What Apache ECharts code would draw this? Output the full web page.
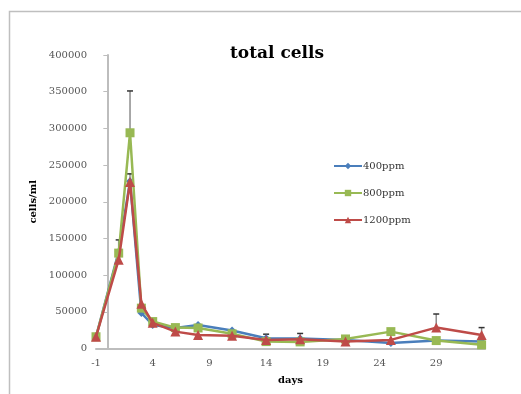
<!DOCTYPE html>
<html><head><meta charset="utf-8">
<script src="https://cdn.jsdelivr.net/npm/echarts@6/dist/echarts.min.js"></script>
<style>html,body{margin:0;padding:0;background:#fff}#c{width:521px;height:394px}</style>
</head><body><div id="c"></div>
<script>
const days = [-1, 1, 2, 3, 4, 6, 8, 11, 14, 17, 21, 25, 29, 33];
const s400  = [16000, 132000, 228000, 48500, 32000, 28000, 32000, 24500, 14000, 13500, 11700, 7500, 10800, 9400];
const s800  = [16000, 130000, 294000, 55000, 36700, 28500, 28000, 20000, 9400, 9000, 13000, 23000, 10800, 5000];
const s1200 = [16000, 121000, 227000, 61000, 35000, 23000, 18500, 17500, 11700, 12700, 9400, 11700, 28500, 18500];
const seriesNames = ['400ppm', '800ppm', '1200ppm'];
// error bars: day, point value, upper value
const errDay  = [1, 2, 2, 14, 17, 29, 33];
const errLow  = [131000, 294000, 227000, 14000, 13500, 28500, 18500];
const errHigh = [148000, 351000, 238000, 19500, 20500, 47000, 28500];
const yTicks = [0, 50000, 100000, 150000, 200000, 250000, 300000, 350000, 400000];

const colors = ['#4a7ebb', '#98b954', '#be4b48'];
const symbols = ['diamond', 'rect', 'triangle'];
const sizes = [8, 9, 10];
const allS = [s400, s800, s1200];
const serif = 'DejaVu Serif';

const lineSeries = allS.map((arr, i) => ({
  name: seriesNames[i], type: 'line',
  data: days.map((d, j) => [d, arr[j]]),
  symbol: symbols[i], symbolSize: sizes[i],
  itemStyle: {color: colors[i]},
  lineStyle: {color: colors[i], width: 2.5},
  z: 3 + i
}));

const errSeries = {
  type: 'custom', silent: true, z: 2,
  data: errDay.map((d, i) => [d, errLow[i], errHigh[i]]),
  renderItem: function (params, api) {
    const p0 = api.coord([api.value(0), api.value(1)]);
    const p1 = api.coord([api.value(0), api.value(2)]);
    return {type: 'group', children: [
      {type: 'line', shape: {x1: p0[0], y1: p0[1], x2: p1[0], y2: p1[1]}, style: {stroke: '#8c8c8c', lineWidth: 1.5}},
      {type: 'line', shape: {x1: p1[0] - 3, y1: p1[1], x2: p1[0] + 3, y2: p1[1]}, style: {stroke: '#333', lineWidth: 1.5}}
    ]};
  }
};

const chart = echarts.init(document.getElementById('c'));
chart.setOption({
  animation: false,
  graphic: [{type: 'rect', shape: {x: 9.5, y: 11.5, width: 600, height: 500}, style: {fill: 'none', stroke: '#bfbfbf', lineWidth: 1.5}, z: -1}],
  title: {text: 'total cells', left: 272, top: 40, textAlign: 'center',
    textStyle: {fontFamily: serif, fontWeight: 'bold', fontSize: 17, color: '#000'}},
  legend: {orient: 'vertical', left: 328, top: 156, itemGap: 17, itemWidth: 28, itemHeight: 8,
    data: seriesNames,
    textStyle: {fontFamily: serif, fontSize: 10, color: '#333', padding: [0, 0, 0, -4]}},
  grid: {left: 96, right: 36, top: 55, bottom: 45.5},
  xAxis: {type: 'value', min: -1, max: 33.3, interval: 1,
    name: 'days', nameLocation: 'middle', nameGap: 27,
    nameTextStyle: {fontFamily: serif, fontWeight: 'bold', fontSize: 10, color: '#000'},
    axisLine: {lineStyle: {color: '#bdbdbd', width: 2}},
    axisTick: {show: false}, splitLine: {show: false},
    axisLabel: {fontFamily: serif, fontSize: 10, color: '#555', margin: 10,
      formatter: v => (Math.abs(Math.round(v) - v) < 1e-6 && (Math.round(v) + 1) % 5 === 0) ? String(Math.round(v)) : ''}},
  yAxis: {type: 'value', min: yTicks[0], max: yTicks[yTicks.length - 1], interval: 50000,
    name: 'cells/ml', nameLocation: 'middle', nameGap: 52, nameRotate: 90,
    nameTextStyle: {fontFamily: serif, fontWeight: 'bold', fontSize: 10, color: '#000'},
    axisLine: {show: true, lineStyle: {color: '#bdbdbd', width: 2}},
    axisTick: {show: true, length: 4, lineStyle: {color: '#bdbdbd'}},
    splitLine: {show: false},
    axisLabel: {fontFamily: serif, fontSize: 10, color: '#555', margin: 9, formatter: v => String(v)}},
  series: [errSeries, ...lineSeries]
});
</script></body></html>
